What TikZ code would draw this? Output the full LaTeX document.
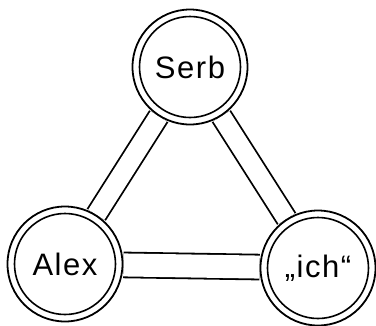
\documentclass[tikz,border=0pt]{standalone}
\usepackage{fontspec}
\setmainfont{Liberation Sans}[LetterSpace=5]
\usetikzlibrary{backgrounds}
\begin{document}
\begin{tikzpicture}[x=1pt,y=-1pt,
  person/.style={circle, draw, line width=1.8pt, minimum size=115pt, inner sep=0pt, fill=white, font=\fontsize{31}{31}\selectfont},
  ring/.style={circle, draw, line width=1.6pt, minimum size=101pt, inner sep=0pt},
  tie/.style={draw, line width=1.8pt, double=white, double distance=#1}]
\useasboundingbox (0,0) rectangle (376,325);
\node[person] (serb) at (190,67) {Serb};
\node[ring] (serbin) at (serb) {};
\node[person] (alex) at (65,264) {Alex};
\node[ring] (alexin) at (alex) {};
\node[person] (ich) at (318,268) {„ich“};
\node[ring] (ichin) at (ich) {};
\begin{scope}[on background layer]
\draw[tie=19pt] (serb) -- (alex);
\draw[tie=19pt] (serb) -- (ich);
\draw[tie=23pt] (alex) -- (ich);
\end{scope}
\end{tikzpicture}
\end{document}
